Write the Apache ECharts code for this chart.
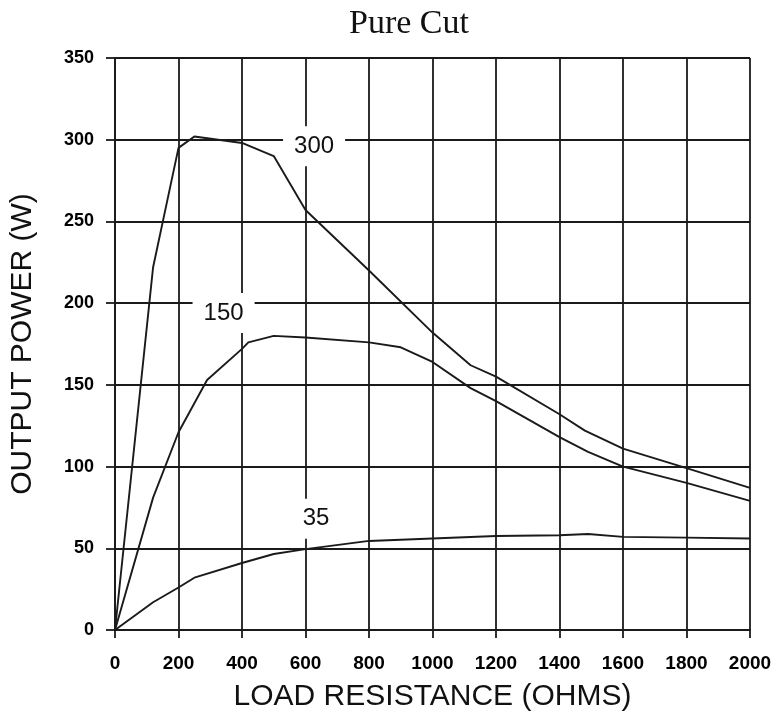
<!DOCTYPE html>
<html>
<head>
<meta charset="utf-8">
<style>html,body{margin:0;padding:0;background:#fff;}#c{width:774px;height:724px;}</style>
<script src="https://cdn.jsdelivr.net/npm/echarts@6/dist/echarts.min.js"></script>
</head>
<body>
<div id="c"></div>
<script>
// Data
const xs300 = [0, 120, 200, 250, 400, 500, 600, 800, 1000, 1120, 1200, 1400, 1480, 1600, 1800, 2000];
const ys300 = [0, 222, 295, 302, 298, 290, 257, 220, 182, 162, 155, 132, 122, 111, 99, 87];
const xs150 = [0, 120, 200, 290, 400, 420, 500, 600, 800, 900, 1000, 1120, 1200, 1400, 1490, 1600, 1800, 2000];
const ys150 = [0, 81, 121, 153, 172, 176, 180, 179, 176, 173, 164, 148, 140, 118, 109, 100, 90, 79];
const xs35 = [0, 120, 200, 250, 400, 500, 600, 800, 1000, 1200, 1400, 1490, 1600, 1800, 2000];
const ys35 = [0, 17, 26, 32, 41, 46.5, 49.5, 54.5, 56, 57.5, 58, 58.7, 57, 56.5, 56];
const curveNames = ['300', '150', '35'];
const labelX = [627, 342, 633];
const labelY = [296, 194, 68];

const zip = (a, b) => a.map((v, i) => [v, b[i]]);
const lineColor = '#1a1a1a';

const chart = echarts.init(document.getElementById('c'), null, {renderer: 'canvas'});
const lineSeries = (name, xs, ys) => ({
  name, type: 'line', data: zip(xs, ys), showSymbol: false, symbol: 'none',
  lineStyle: {color: lineColor, width: 1.9}, z: 3, animation: false
});

chart.setOption({
  animation: false,
  backgroundColor: '#fff',
  title: {
    text: 'Pure Cut', left: 404, top: 2, textAlign: 'center',
    textStyle: {fontFamily: 'Liberation Serif', fontWeight: 'normal', fontSize: 34, color: '#111'}
  },
  grid: {left: 115, right: 24, top: 58, bottom: 94, containLabel: false, outerBoundsMode: 'none'},
  xAxis: {
    type: 'value', min: 0, max: 2000, interval: 200,
    name: 'LOAD RESISTANCE (OHMS)', nameLocation: 'middle', nameGap: 52,
    nameTextStyle: {fontFamily: 'Liberation Sans', fontSize: 30, color: '#111'},
    axisLine: {show: true, lineStyle: {color: lineColor, width: 1.8}},
    axisTick: {show: true, length: 8, lineStyle: {color: lineColor, width: 1.8}},
    axisLabel: {margin: 24, fontFamily: 'Liberation Sans', fontWeight: 'bold', fontSize: 19, color: '#000',
      formatter: v => String(v)},
    splitLine: {show: true, lineStyle: {color: lineColor, width: 1.8}}
  },
  yAxis: {
    type: 'value', min: 0, max: 350, interval: 50,
    name: 'OUTPUT POWER (W)', nameLocation: 'middle', nameGap: 77, nameRotate: 90,
    nameTextStyle: {fontFamily: 'Liberation Sans', fontSize: 30, color: '#111'},
    axisLine: {show: true, lineStyle: {color: lineColor, width: 1.8}},
    axisTick: {show: true, length: 9, lineStyle: {color: lineColor, width: 1.8}},
    axisLabel: {margin: 21, fontFamily: 'Liberation Sans', fontWeight: 'bold', fontSize: 18, color: '#000',
      formatter: v => String(v)},
    splitLine: {show: true, lineStyle: {color: lineColor, width: 1.8}}
  },
  series: [
    lineSeries('300', xs300, ys300),
    lineSeries('150', xs150, ys150),
    lineSeries('35', xs35, ys35),
    {
      type: 'scatter', symbolSize: 1, z: 5, animation: false, silent: true,
      itemStyle: {color: '#fff', opacity: 1},
      data: curveNames.map((n, i) => ({value: [labelX[i], labelY[i]], name: n})),
      label: {
        show: true, position: 'inside', formatter: p => p.name, opacity: 1,
        fontFamily: 'Liberation Sans', fontSize: 24, color: '#111',
        textBorderWidth: 0, textBorderColor: 'rgba(0,0,0,0)',
        backgroundColor: '#fff', padding: [8, 11, 8, 11]
      }
    }
  ]
});
</script>
</body>
</html>
